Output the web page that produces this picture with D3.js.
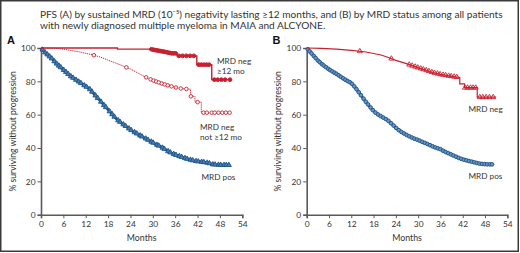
<!DOCTYPE html>
<html><head><meta charset="utf-8">
<script src="https://cdn.jsdelivr.net/npm/d3@7"></script>
<style>
body{margin:0;background:#fff;}
svg{display:block;font-family:Lato, "Open Sans", sans-serif;}
</style></head>
<body><svg id="c" width="520" height="253"></svg>
<script>
// ---------- DATA ----------
const xTicks = [0,6,12,18,24,30,36,42,48,54];
const yTicks = [0,20,40,60,80,100];
const titleLines = ["PFS (A) by sustained MRD (10\u207B\u2075) negativity lasting \u226512 months, and (B) by MRD status among all patients",
                    "with newly diagnosed multiple myeloma in MAIA and ALCYONE."];

// Panel A: MRD pos (blue)
const aPosT = [0,1,2,3,4,5,6,7,8,9,10,11,12,13,14,15,16,17,18,19,20,21,22,23,24,25,26,27,28,29,30,31,32,33,34,35,36,37,38,39,40,41,42,43,44,45,46,47,48,49,50.5];
const aPosS = [100,97.5,95.5,93.5,91,89,87,85,83,81.5,80,78.5,77,75.5,73,70.5,68,65.5,63,60.5,58,56,54.3,52.7,51,49.6,48.3,47,45.8,44.5,43.3,42,41,39.6,38.2,37,36,35.2,34.4,33.6,33,32.4,32,31.7,31.4,31,30.2,30,29.9,29.8,29.8];
const aPosCensor = [0.4,1.1,1.7,2.3,2.9,3.6,4.2,4.8,5.3,6.1,6.7,7.3,8,8.6,9.4,10.1,10.7,11.6,12.2,13.1,13.7,14.6,15.2,16.1,16.9,17.4,18.4,19.1,19.7,20.7,21.2,22.1,22.7,23.6,24.2,25.1,25.7,26.6,27.1,28.1,28.7,29.6,30.1,31.1,31.6,32.6,33.1,34.1,34.7,35.6,36.2,37.1,37.7,38.6,39.2,40.1,40.7,41.6,42.2,43.1,43.7,44.6,45.2,46.1,46.7,47.6,48.2,49.1,49.7,50.4];
// Panel A: MRD neg >=12 mo (red solid)
const aSustT = [0,20.5,20.5,29.5,30.5,32,33.5,35,36.5,36.5,41.8,41.8,45.8,45.8,50.7];
const aSustS = [100,100,99.3,99.3,98.8,98.2,97.6,96.8,96.8,95.3,95.3,90,90,81,81];
const aSustCensor = [29.6,30.1,30.6,31.1,31.6,32.1,32.6,33.1,33.6,34.1,34.6,35.1,35.6,36.1,37,38,39,40,41,42.3,43,43.7,44.4,45.1,46.5,47.4,48.4,49.4,50.7];
// Panel A: MRD neg not >=12 mo (red dotted)
const aNotT = [0,4,6,8,10,12,14,16,18,20,22,24,26,28,30,32,34,36,38,40.1,40.1,41.3,41.3,43,43,50.7];
const aNotS = [100,99.8,99.3,98.5,97.8,96.8,95.8,94.5,92.7,91,89.2,87.4,85,82.6,80.6,79,77.6,76.4,75.5,75.3,71,71,67.5,67.5,61.2,61.2];
const aNotCensor = [14.2,22.9,28.2,29.4,30.2,30.9,31.6,32.4,33.2,34,35,36.2,37.5,39,40.2,42,43.6,44.5,45.8,46.6,47.6,48.6,49.6,50.6];

// Panel B: MRD pos (blue)
const bPosT = [0,1,2,3,4,5,6,7,8,9,10,11,12,13,14,15,16,17,18,19,20,21,22,23,24,25,26,27,28,29,30,31,32,33,34,35,36,37,38,39,40,41,42,43,44,45,46,47,48,49,50];
const bPosS = [100,97.5,95,92.5,90.5,88.8,87.2,85.8,84.5,83,81.5,80.2,79,76.5,73.5,70.5,67.5,64.8,62.2,60.4,59,57.8,56.3,54.3,52.2,50.3,49,47.7,46.6,45.6,44.8,43.8,42.9,41.9,40.9,40,39.3,38,37,36,35,34,33.2,32.6,32,31.5,30.9,30.5,30.3,30.2,30.2];
const bPosCensor = [0.3,0.8,1.3,1.9,2.4,3,3.5,4.1,4.6,5.2,5.8,6.3,6.9,7.5,8,8.6,9.2,9.8,10.4,11,11.6,12.2,12.8,13.4,14,14.6,15.3,15.9,16.5,17.2,17.8,18.5,19.2,19.9,20.6,21.3,22,22.7,23.4,24.1,24.8,25.5,26.2,26.9,27.6,28.3,29,29.7,30.4,31.1,31.8,32.5,33.2,33.9,34.6,35.3,36,36.7,37.4,38.1,38.8,39.5,40.2,40.9,41.6,42.3,43,43.7,44.4,45.1,45.8,46.5,47.2,47.9,48.6,49.3,49.9];
// Panel B: MRD neg (red)
const bNegT = [0,4,8,12,16,20,22,24,26,28,30,32,34,36,38,40,41.2,41.2,42.5,42.5,45.9,45.9,51];
const bNegS = [100,99.8,99.3,98.6,97.6,95.8,94.3,92.6,91.2,89.7,88.2,86.8,85.3,84.2,83.4,82.7,82.3,78.5,78.5,76.2,76.2,70.5,70.5];
const bNegCensor = [14.3,22.8,27.6,28.4,29.2,29.9,30.7,31.4,32.2,32.9,33.7,34.4,35.2,35.9,36.7,37.4,38.2,38.9,39.7,40.4,42.6,43.3,44.1,44.8,45.5,46.6,47.4,48.3,49.2,50.2];

// ---------- DRAW ----------
const RED = "#c8202f", BLUE = "#1a558f", AXIS = "#5a5a5a", TXT = "#333";
const svg = d3.select("#c");

svg.append("rect").attr("x",0.75).attr("y",0.75).attr("width",517.5).attr("height",250.5)
   .attr("fill","none").attr("stroke","#3a3a3a").attr("stroke-width",1.5);

svg.selectAll("text.title").data(titleLines).join("text").attr("class","title")
   .attr("x",40).attr("y",(d,i)=>17.5+i*11).attr("font-size",10.1).attr("fill",TXT).text(d=>d);

function valAt(T,S,t){
  for(let i=0;i<T.length-1;i++){
    if(t>=T[i] && t<=T[i+1] && T[i+1]>T[i]) return S[i]+(S[i+1]-S[i])*(t-T[i])/(T[i+1]-T[i]);
  }
  return S[S.length-1];
}

function panel(x0, x1, letter, letterX, ylabX, series, labels){
  const x = d3.scaleLinear().domain([0,54]).range([x0,x1]);
  const y = d3.scaleLinear().domain([0,100]).range([214.7,48]);
  const g = svg.append("g");
  const ax = g.append("g").attr("transform",`translate(0,${y(0)})`)
     .call(d3.axisBottom(x).tickValues(xTicks).tickSize(3.5).tickPadding(2.5));
  const ay = g.append("g").attr("transform",`translate(${x0},0)`)
     .call(d3.axisLeft(y).tickValues(yTicks).tickSize(3.5).tickPadding(2));
  [ax,ay].forEach(a=>{
    a.select(".domain").attr("stroke",AXIS).attr("stroke-width",1.6);
    a.selectAll(".tick line").attr("stroke",AXIS).attr("stroke-width",1);
    a.selectAll("text").attr("font-size",8.4).attr("fill",TXT).attr("font-family","Lato, sans-serif");
  });
  g.append("text").attr("x",(x0+x1)/2).attr("y",241).attr("text-anchor","middle")
   .attr("font-size",8.8).attr("fill",TXT).text("Months");
  g.append("text").attr("transform",`translate(${ylabX},${(y(0)+y(100))/2}) rotate(-90)`)
   .attr("text-anchor","middle").attr("font-size",8.6).attr("fill",TXT).text("% surviving without progression");
  g.append("text").attr("x",letterX).attr("y",43.5).attr("font-size",11).attr("font-weight","bold")
   .attr("fill","#111").attr("font-family","Arial, Liberation Sans, sans-serif").text(letter);

  const line = d3.line().x(d=>x(d[0])).y(d=>y(d[1]));
  series.forEach(s=>{
    const pts = s.T.map((t,i)=>[t,s.S[i]]);
    g.append("path").attr("d",line(pts)).attr("fill","none").attr("stroke",s.color)
     .attr("stroke-width",s.width).attr("stroke-dasharray",s.dash||null);
    const sym = d3.symbol().type(s.marker).size(s.msize);
    g.selectAll(null).data(s.C).join("path")
     .attr("transform",t=>`translate(${x(t)},${y(valAt(s.T,s.S,t))})`)
     .attr("d",sym()).attr("fill",s.mfill).attr("stroke",s.color).attr("stroke-width",s.mstroke);
  });
  labels.forEach(l=>{
    g.append("text").attr("x",l.x).attr("y",l.y).attr("font-size",8.2).attr("fill",TXT).text(l.t);
  });
}

panel(41, 242.3, "A", 7, 15.5, [
  {T:aPosT,S:aPosS,C:aPosCensor,color:BLUE,width:2.8,marker:d3.symbolTriangle,msize:11,mfill:"#4f7cad",mstroke:0.9},
  {T:aNotT,S:aNotS,C:aNotCensor,color:RED,width:1,dash:"1.2,0.9",marker:d3.symbolCircle,msize:10,mfill:"#fff",mstroke:0.9},
  {T:aSustT,S:aSustS,C:aSustCensor,color:RED,width:1.4,marker:d3.symbolCircle,msize:11,mfill:RED,mstroke:1}
],[
  {x:217,y:64,t:"MRD neg"},{x:217,y:74,t:"\u226512 mo"},
  {x:200,y:130,t:"MRD neg"},{x:200,y:140,t:"not \u226512 mo"},
  {x:201.5,y:180,t:"MRD pos"}
]);

panel(306.7, 507.3, "B", 272.5, 281, [
  {T:bPosT,S:bPosS,C:bPosCensor,color:BLUE,width:2.6,marker:d3.symbolCircle,msize:11,mfill:"#6f93bb",mstroke:0.9},
  {T:bNegT,S:bNegS,C:bNegCensor,color:RED,width:1.2,marker:d3.symbolTriangle,msize:11,mfill:"none",mstroke:0.9}
],[
  {x:468.5,y:111.5,t:"MRD neg"},
  {x:468.5,y:179,t:"MRD pos"}
]);
</script></body></html>
